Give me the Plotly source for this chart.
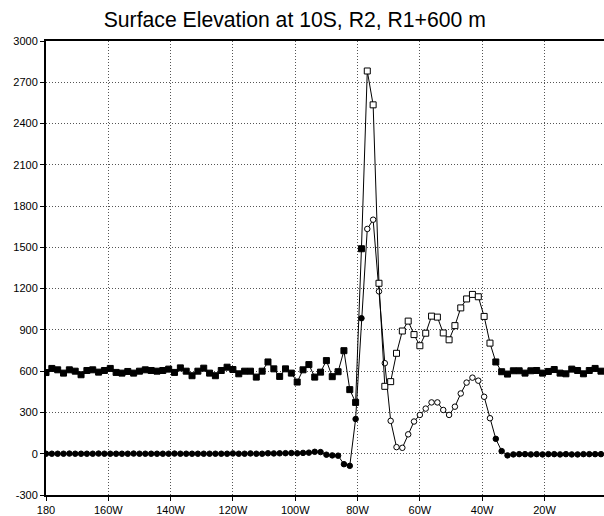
import plotly.graph_objects as go

# Gaussian (T62) longitudes along 10S, degrees east, 180 -> 358.125
GRID_STEP = 1.875
lon = [180 + GRID_STEP * k for k in range(96)]

# R1 surface elevation + 600 m offset (m)
r1_plus_600 = [
    590, 620, 610, 586, 610, 600, 574, 605, 610, 593,
    605, 620, 591, 586, 598, 586, 600, 610, 605, 600,
    605, 615, 591, 624, 600, 567, 600, 622, 586, 567,
    605, 629, 612, 581, 600, 600, 557, 600, 667, 617,
    562, 617, 586, 521, 610, 648, 557, 593, 677, 560,
    596, 749, 466, 373, 1490,
    2782, 2536, 1239, 490, 524, 730, 892, 964, 866, 785,
    876, 1000, 993, 878, 828, 931, 1060, 1125, 1158, 1141,
    998, 804,
    667, 596, 579, 603, 603, 586, 603, 605, 586, 598,
    612, 586, 581, 615, 605, 581, 605, 620, 600,
]

# R2 surface elevation (m)
r2 = [
    0, 0, 0, 0, 1, 0, 0, 0, 0, 1,
    0, 0, 0, 0, 0, 1, 0, 0, 0, 0,
    0, 0, 1, 0, 0, 0, 0, 0, 0, 0,
    0, 0, 2, 0, 0, 2, 0, 0, 3, 2,
    3, 4, 5, 3, 6, 8, 14, 12, -7, -12,
    -14, -76, -88, 252, 985,
    1634, 1701, 1180, 658, 239, 48, 43, 141, 234, 282,
    328, 373, 373, 318, 282, 342, 438, 517, 553, 531,
    414, 258,
    108, 19, -12, -5, -3, -3, -5, -3, -5, -3,
    -3, -5, -3, -5, -5, -3, -3, -3, -3,
]

# land points (open markers); sea points are drawn solid
land = [55 <= k <= 76 for k in range(96)]

x_ticks = [180, 200, 220, 240, 260, 280, 300, 320, 340]
x_tick_text = ["180", "160W", "140W", "120W", "100W", "80W", "60W", "40W", "20W"]
y_ticks = [-300, 0, 300, 600, 900, 1200, 1500, 1800, 2100, 2400, 2700, 3000]
y_tick_text = ["-300", "0", "300", "600", "900", "1200", "1500", "1800",
               "2100", "2400", "2700", "3000"]

fill = ["white" if is_land else "black" for is_land in land]

fig = go.Figure()
fig.add_trace(go.Scatter(
    x=lon, y=r2, mode="lines+markers",
    line=dict(color="black", width=1),
    marker=dict(symbol="circle", size=5.5, color=fill,
                line=dict(color="black", width=1)),
    showlegend=False,
))
fig.add_trace(go.Scatter(
    x=lon, y=r1_plus_600, mode="lines+markers",
    line=dict(color="black", width=1),
    marker=dict(symbol="square", size=6, color=fill,
                line=dict(color="black", width=1)),
    showlegend=False,
))

FONT = "Liberation Sans"
fig.update_layout(
    width=604, height=516,
    margin=dict(l=46, r=0, t=41, b=13),
    paper_bgcolor="white", plot_bgcolor="white",
    title=dict(text="Surface Elevation at 10S, R2, R1+600 m",
               font=dict(family=FONT, size=21.2, color="black"),
               x=0.488, xref="container", xanchor="center",
               y=1 - 20 / 516, yref="container", yanchor="middle"),
    font=dict(family=FONT, size=11, color="black"),
)
grid_style = dict(showgrid=True, gridcolor="#555", gridwidth=1, griddash="1px,2px")
fig.update_xaxes(
    range=[180, 359.1], tickvals=x_ticks, ticktext=x_tick_text,
    showline=True, linecolor="black", linewidth=2, mirror=True,
    ticks="outside", ticklen=4, tickwidth=1, tickcolor="black",
    zeroline=False, tickfont=dict(family=FONT, size=11, color="black"),
    **grid_style,
)
fig.update_yaxes(
    range=[-300, 3000], tickvals=y_ticks, ticktext=y_tick_text,
    showline=True, linecolor="black", linewidth=2, mirror=False,
    ticks="outside", ticklen=4, tickwidth=1, tickcolor="black",
    zeroline=False, tickfont=dict(family=FONT, size=11, color="black"),
    **grid_style,
)

fig.write_html("out.html")
